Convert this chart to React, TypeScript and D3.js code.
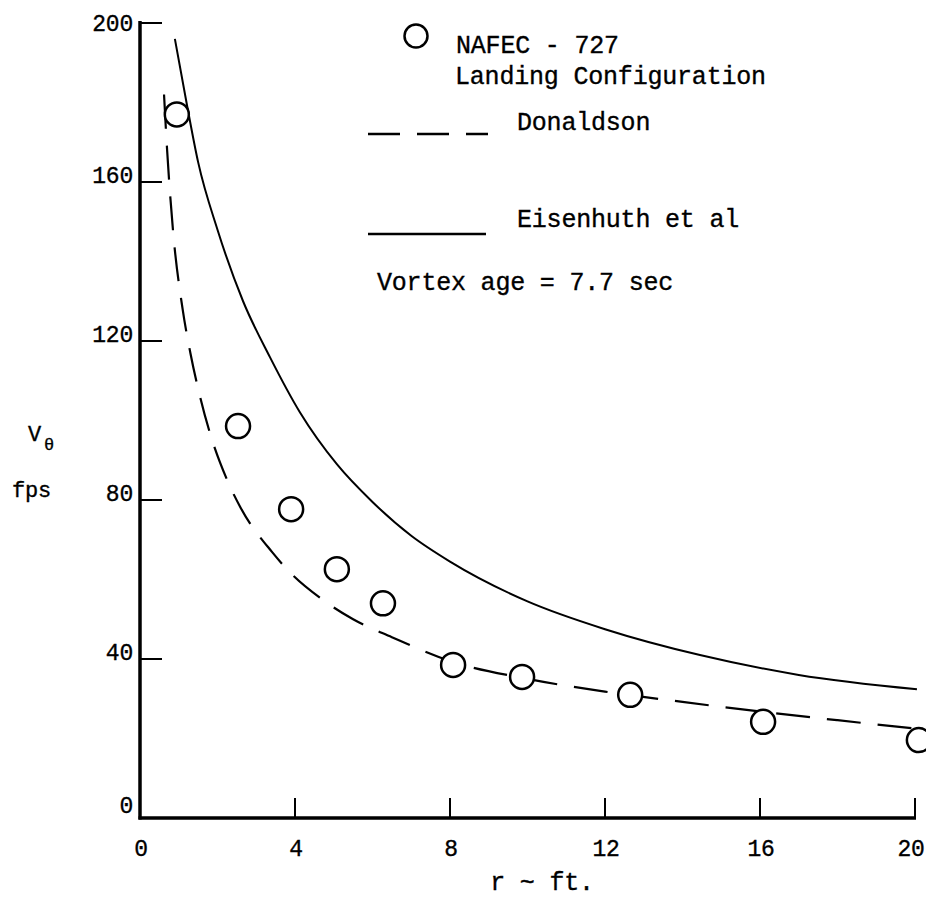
import React from "react";
import * as d3 from "d3";

const xTicks = [0, 4, 8, 12, 16, 20];
const yTicks = [0, 40, 80, 120, 160, 200];

// NAFEC - 727 measured points
const nafecR = [0.95, 2.53, 3.9, 5.08, 6.27, 8.08, 9.86, 12.65, 16.08, 20.1];
const nafecV = [177, 98.6, 77.7, 62.6, 54, 38.5, 35.5, 31, 24.2, 19.6];

// Donaldson (dashed)
const donR = [0.62, 0.7, 0.85, 1.1, 1.3, 1.55, 1.8, 2.25, 2.6, 3.4, 3.9, 4.7, 5.5, 6.5, 8.0, 10, 12, 14, 16, 18, 20];
const donV = [182, 168, 148, 128, 117, 106, 97, 85, 78, 67, 61.5, 55, 50, 45.5, 39.5, 35, 31.8, 29.2, 26.8, 24.6, 22.5];

// Eisenhuth et al (solid)
const eisR = [0.9, 1.2, 1.5, 2.0, 2.66, 3.35, 4.13, 5.08, 6.0, 7.0, 8.0, 10, 12, 14.45, 17.0, 20.05];
const eisV = [196, 180, 165, 148, 130, 116, 102, 89, 79.5, 71, 64.5, 54.5, 47.5, 41, 36, 32.4];

const FONT = "'Liberation Mono', 'DejaVu Sans Mono', monospace";

export default function App() {
  const W = 926, H = 907;
  const x = d3.scaleLinear().domain([0, 20]).range([140, 915]);
  const y = d3.scaleLinear().domain([0, 200]).range([818, 23]);

  const line = d3
    .line<[number, number]>()
    .x((d) => x(d[0]))
    .y((d) => y(d[1]))
    .curve(d3.curveMonotoneX);

  const donPts = donR.map((r, i) => [r, donV[i]] as [number, number]);
  const eisPts = eisR.map((r, i) => [r, eisV[i]] as [number, number]);

  const textStyle: React.CSSProperties = {
    fontFamily: FONT,
    fontSize: 25,
    letterSpacing: -0.2,
    stroke: "#000",
    strokeWidth: 0.35,
  };

  return (
    <svg
      width={W}
      height={H}
      style={{ position: "absolute", left: 0, top: 0, background: "#fff" }}
    >
      <rect width={W} height={H} fill="#fff" />
      {/* axes */}
      <line x1={x(0)} x2={x(0)} y1={y(0) + 1.5} y2={y(200) - 2} stroke="#000" strokeWidth={3.5} />
      <line x1={x(0) - 1.5} x2={x(20) + 1} y1={y(0)} y2={y(0)} stroke="#000" strokeWidth={3.5} />
      {yTicks.map((t) => (
        <g key={"y" + t}>
          {t > 0 && (
            <line x1={x(0)} x2={x(0) + 22} y1={y(t)} y2={y(t)} stroke="#000" strokeWidth={2} />
          )}
          <text
            x={x(0) - 7}
            y={y(t) + (t === 200 ? 8 : t === 0 ? -5 : 1)}
            textAnchor="end"
            style={{ ...textStyle, fontSize: 23 }}
          >
            {t}
          </text>
        </g>
      ))}
      {xTicks.map((t) => (
        <g key={"x" + t}>
          {t > 0 && (
            <line x1={x(t)} x2={x(t)} y1={y(0)} y2={y(0) - 20} stroke="#000" strokeWidth={2} />
          )}
          <text
            x={t === 20 ? x(t) - 4 : x(t) + 1}
            y={y(0) + 38}
            textAnchor="middle"
            style={{ ...textStyle, fontSize: 23 }}
          >
            {t}
          </text>
        </g>
      ))}
      {/* axis titles */}
      <text x={542} y={890} textAnchor="middle" style={textStyle}>
        r ~ ft.
      </text>
      <text x={28} y={441} style={{ ...textStyle, fontSize: 22 }}>
        V
      </text>
      <text x={44} y={450} style={{ ...textStyle, fontSize: 17 }}>
        θ
      </text>
      <text x={12} y={497} style={{ ...textStyle, fontSize: 22 }}>
        fps
      </text>

      {/* curves */}
      <path d={line(eisPts) || ""} fill="none" stroke="#000" strokeWidth={2} />
      <path
        d={line(donPts) || ""}
        fill="none"
        stroke="#000"
        strokeWidth={2.2}
        strokeDasharray="34 17"
      />
      {/* points */}
      {nafecR.map((r, i) => (
        <circle key={i} cx={x(r)} cy={y(nafecV[i])} r={12} fill="#fff" stroke="#000" strokeWidth={2.5} />
      ))}

      {/* legend */}
      <circle cx={416} cy={36} r={11.5} fill="#fff" stroke="#000" strokeWidth={2.5} />
      <text x={456} y={53} style={textStyle}>NAFEC - 727</text>
      <text x={455} y={84} style={textStyle}>Landing Configuration</text>
      <line x1={368} x2={488} y1={134} y2={134} stroke="#000" strokeWidth={2.5} strokeDasharray="32 17" />
      <text x={517} y={130} style={textStyle}>Donaldson</text>
      <line x1={368} x2={486} y1={234} y2={234} stroke="#000" strokeWidth={2.5} />
      <text x={517} y={227} style={textStyle}>Eisenhuth et al</text>
      <text x={377} y={290} style={textStyle}>Vortex age = 7.7 sec</text>
    </svg>
  );
}
